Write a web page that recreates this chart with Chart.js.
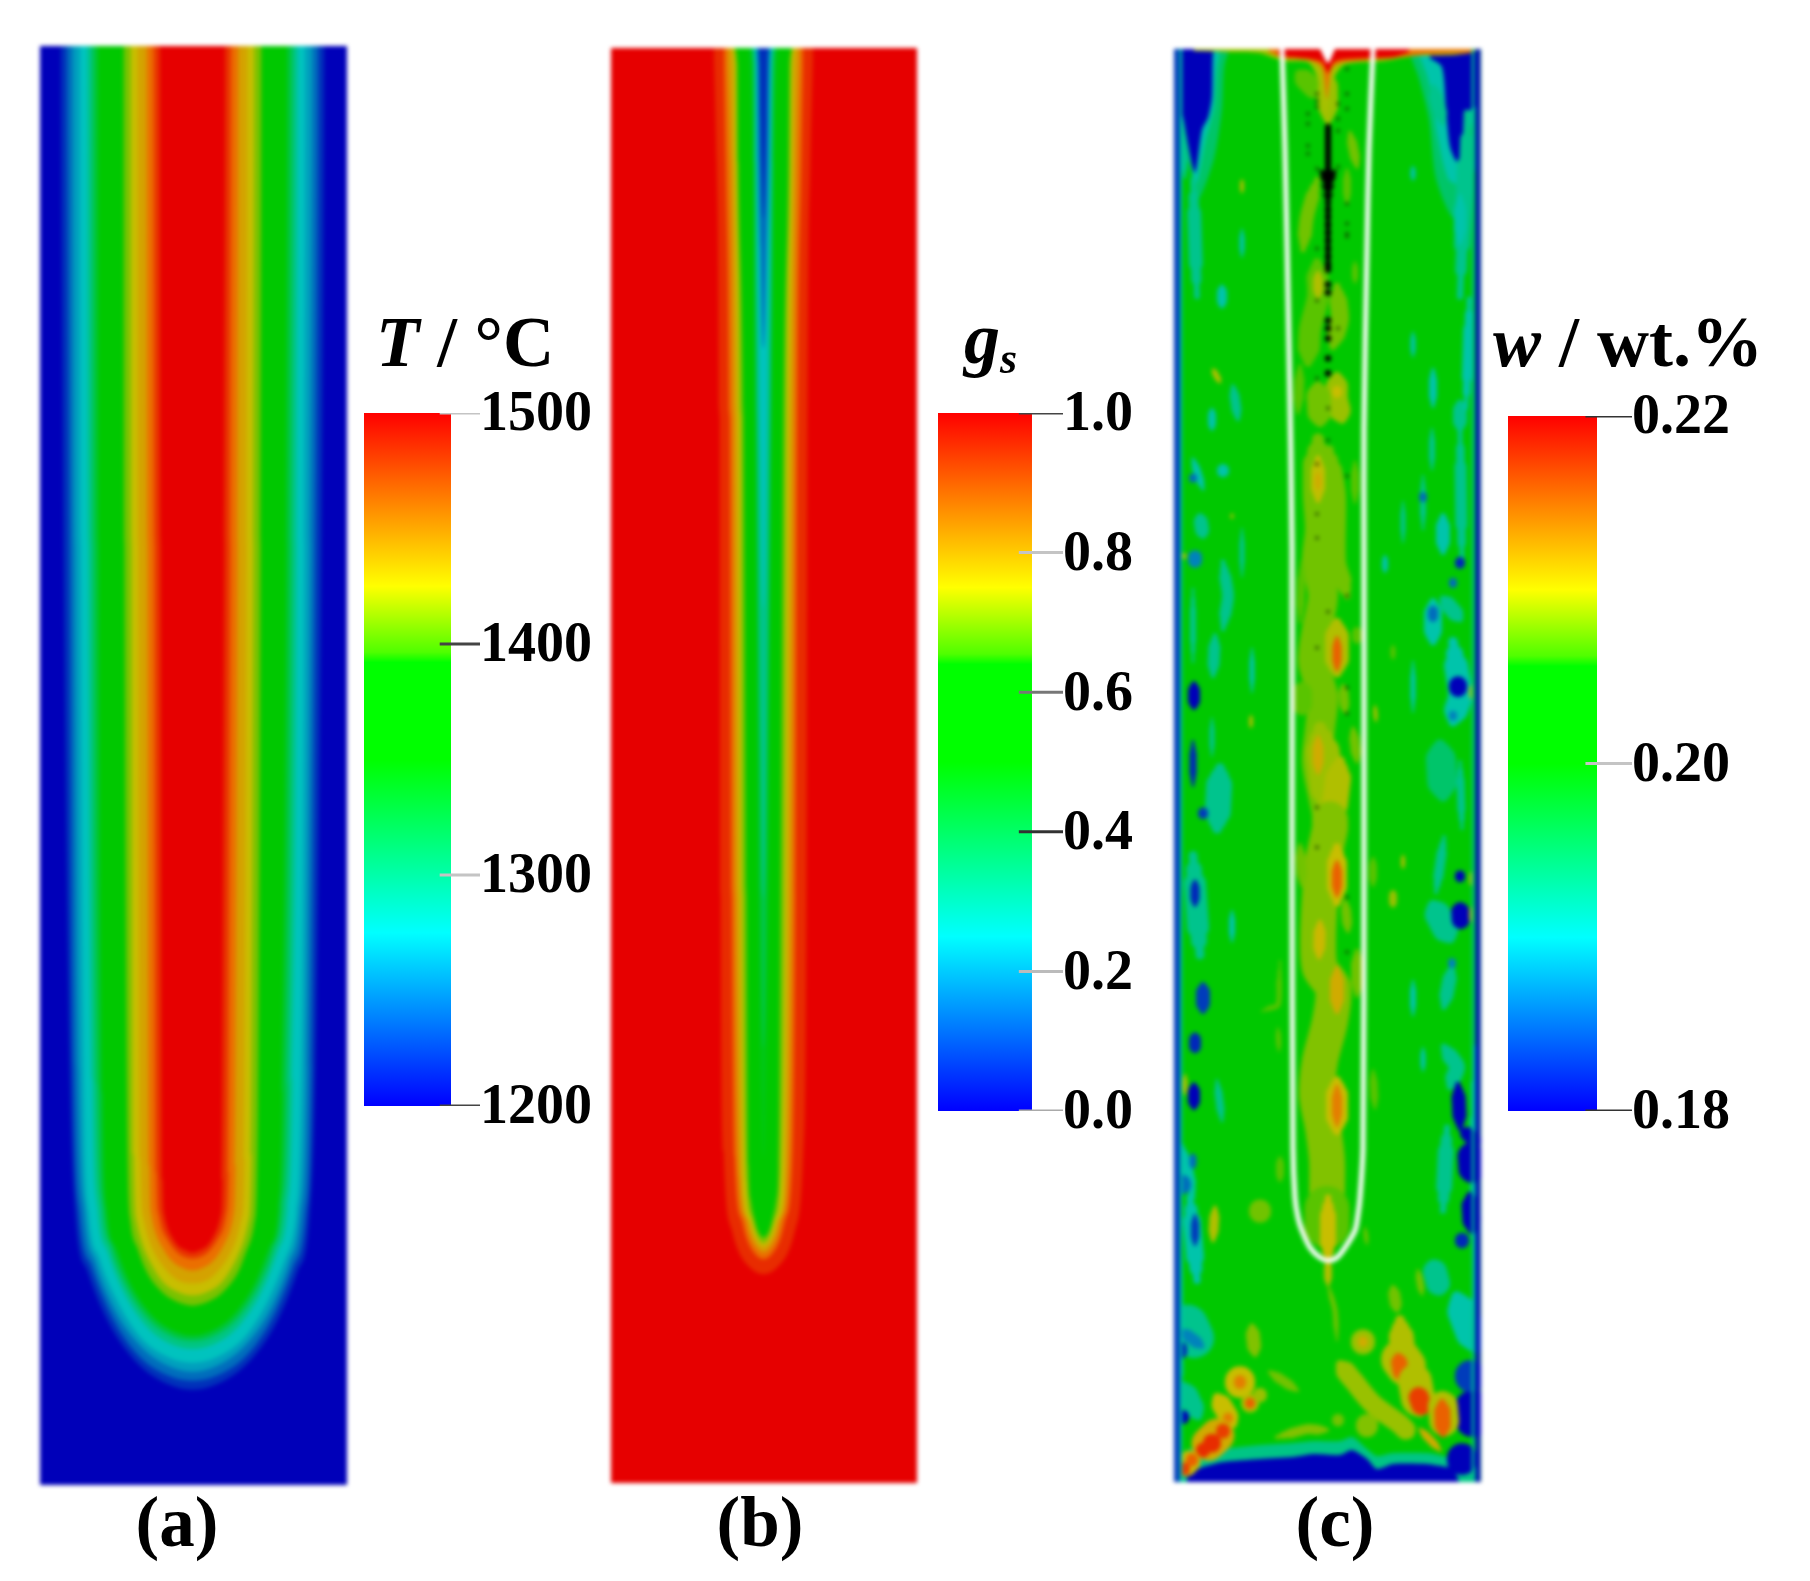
<!DOCTYPE html>
<html>
<head>
<meta charset="utf-8">
<script src="https://cdn.jsdelivr.net/npm/chart.js@4/dist/chart.umd.min.js"></script>
<style>
html, body { margin: 0; background: #fff; }
body { position: relative; width: 1810px; height: 1581px; overflow: hidden; font: bold 66px "Liberation Serif", serif; color: #000; }
canvas { position: absolute; }
.field { filter: blur(2px); }
.bar { filter: blur(0.6px); }
.txt { position: absolute; line-height: 1; white-space: nowrap; filter: blur(0.5px); }
.cap { transform: translateX(-50%); }
sub { font-size: 44px; vertical-align: baseline; position: relative; top: 10px; }
</style>
</head>
<body>
<script>
// Vùng tính: trục x theo bề rộng phôi, trục y theo chiều sâu (đơn vị)
const fieldW = 307, fieldH = 1436;

// (a) nhiệt độ: mỗi đường đẳng trị là các cặp [nửa bề rộng, chiều sâu]
const tempLevels = [1219, 1242, 1261, 1275, 1299, 1326, 1350, 1410, 1425, 1438, 1462, 1482, 1500];
const tempContours = [
  [[132,0],[129,500],[123,1016],[117,1169],[105,1223],[86,1270],[62,1307],[37,1329],[0,1341]],
  [[126,0],[123,500],[119,1020],[113,1167],[101,1218],[83,1263],[60,1300],[36,1321],[0,1332]],
  [[120,0],[118,500],[114,1024],[108,1165],[97,1214],[80,1257],[57,1292],[34,1312],[0,1323]],
  [[113,0],[112,500],[109,1028],[104,1163],[93,1210],[76,1251],[55,1285],[33,1304],[0,1314]],
  [[105,0],[104,500],[100,1033],[95,1159],[85,1203],[70,1241],[50,1273],[30,1291],[0,1300]],
  [[100,0],[99,500],[95,1038],[90,1158],[81,1200],[67,1236],[48,1266],[29,1283],[0,1292]],
  [[95,0],[94,500],[90,1046],[86,1160],[77,1199],[63,1234],[45,1262],[27,1278],[0,1287]],
  [[69,0],[68,500],[65,1101],[62,1174],[55,1200],[46,1223],[33,1241],[20,1251],[0,1257]],
  [[62,0],[61,500],[59,1107],[56,1173],[50,1196],[41,1216],[30,1233],[18,1242],[0,1247]],
  [[55,0],[54,500],[52,1112],[49,1170],[44,1190],[36,1208],[26,1222],[16,1231],[0,1235]],
  [[46,0],[45,500],[43,1118],[41,1167],[37,1184],[30,1199],[22,1211],[13,1218],[0,1222]],
  [[39,0],[38,500],[36,1125],[34,1165],[31,1179],[25,1191],[18,1201],[11,1207],[0,1210]],
  [[33,0],[32,500],[30,1132],[28.5,1166],[25.5,1178],[21,1188],[15,1197],[9,1201],[0,1204]]
];

// (b) pha rắn
const solidLevels = [0.95, 0.875, 0.8, 0.75, 0.7, 0.64, 0.47, 0.4, 0.32, 0.25, 0.14, 0.06];
const solidContours = [
  [[50,0],[47,115],[44,370],[43,850],[40,1104],[32,1182],[26,1202],[15,1219],[0,1227]],
  [[40,0],[38,115],[34,370],[32,850],[29,1110],[22,1172],[17,1191],[9,1206],[0,1212]],
  [[36,0],[33,115],[30,370],[28,850],[24,1130],[18,1170],[14,1186],[7,1200],[0,1205]],
  [[32,0],[30,15],[29,115],[26,370],[24,850],[20,1152],[15,1172],[10,1187],[5,1196],[0,1199]],
  [[30,0],[28,15],[27,115],[23,370],[21,850],[17,1135],[12,1170],[8,1184],[4,1193],[0,1196]],
  [[29,0],[26,15],[25,115],[20,370],[17,850],[15,1119],[13,1152],[9,1172],[5,1185],[0,1190]],
  [[15,0],[14,15],[11,115],[8,370],[5,850],[2,1050],[0,1110]],
  [[13,0],[11,15],[9,115],[7,370],[3,850],[0,1000]],
  [[11,0],[9.5,15],[9,115],[7,370],[3,700],[0,850]],
  [[9,0],[8,15],[7,115],[5,250],[3,400],[0,560]],
  [[7,0],[6,15],[5,115],[3,200],[0,300]],
  [[5,0],[4,15],[3,70],[1.5,130],[0,170]]
];

// (c) thành phần: [wt, x, độ sâu, ...] tô lên mép trên hoặc mép dưới
const topPatches = [
  [0.1945, 1,72, 14,110, 24,150, 40,110, 48,60, 50,20, 54,4, 60,0],
  [0.191, 1,66, 10,80, 22,135, 32,90, 40,60, 43,20, 46,2],
  [0.1945, 235,3, 245,30, 255,70, 262,130, 280,170, 296,140, 306,100],
  [0.191, 245,6, 254,30, 264,90, 274,130, 284,135, 296,80, 304,50],
  [0.18, 1,64, 8,66, 13,91, 21,124, 28,81, 34,69, 38,48, 39,4, 42,0],
  [0.18, 256,9, 268,18, 272,60, 276,98, 283,113, 288,104, 294,64, 301,58, 306,58]
];
const hotPatches = [
  [0.2092, 20,2, 60,3, 85,4, 110,12, 135,14, 145,34, 152,74, 158,34, 170,16, 210,12, 240,7, 280,6, 302,3],
  [0.2145, 95,3, 110,9, 135,11, 148,19, 153,50, 158,19, 170,13, 220,9, 255,5, 298,4],
  [0.22, 104,7, 136,10, 148,13, 154,24, 160,13, 172,10, 219,8, 235,3]
];
const bottomPatches = [
  [0.193, 0,1412, 13,1416, 29,1406, 49,1403, 86,1399, 119,1397, 139,1395, 166,1395, 178,1391, 193,1403, 203,1410, 219,1407, 253,1407, 273,1411, 290,1416, 306,1416],
  [0.18, 13,1428, 29,1421, 49,1416, 86,1413, 119,1411, 139,1408, 166,1409, 178,1404, 193,1413, 203,1423, 219,1418, 253,1418, 273,1421, 279,1421, 285,1436]
];

// [wt, bề dày, x, y, x, y, ...]
const coolWisps = [
  [0.1926, 14, 19,131, 23,248], [0.1926, 8, 8,74, 11,128], [0.191, 5, 68,181, 68,208],
  [0.191, 10, 48,238, 48,258], [0.1926, 10, 59,338, 64,371], [0.191, 8, 38,361, 38,381],
  [0.191, 5, 239,118, 239,131], [0.1926, 16, 293,64, 286,248], [0.191, 12, 286,148, 286,194],
  [0.1926, 14, 259,38, 269,74], [0.191, 5, 239,284, 239,308], [0.191, 8, 259,321, 259,358],
  [0.1926, 14, 286,354, 286,381], [0.191, 10, 295,250, 292,360],
  [0.191, 8, 19,411, 29,441], [0.1926, 14, 26,468, 29,488], [0.1926, 12, 49,514, 54,548, 49,581],
  [0.1926, 12, 41,588, 39,628], [0.1926, 26, 46,721, 43,781], [0.1926, 6, 19,541, 19,614],
  [0.1926, 5, 38,671, 38,708], [0.191, 5, 78,601, 78,644], [0.1926, 5, 68,481, 68,528],
  [0.191, 12, 49,421, 49,424], [0.1926, 12, 286,381, 288,514], [0.1926, 6, 258,381, 258,421],
  [0.1926, 6, 249,428, 249,481], [0.1926, 5, 229,454, 229,494], [0.191, 14, 269,468, 269,504],
  [0.191, 6, 211,508, 211,524], [0.191, 18, 259,554, 259,594], [0.1926, 16, 269,551, 286,571],
  [0.191, 24, 279,594, 286,648, 279,674], [0.1944, 30, 266,698, 269,748], [0.1926, 8, 286,714, 288,781],
  [0.191, 5, 239,614, 239,664], [0.1926, 22, 19,808, 26,908], [0.191, 6, 58,864, 58,894],
  [0.1926, 8, 43,1034, 48,1074], [0.1926, 26, 259,858, 276,891], [0.1926, 10, 270,790, 262,845],
  [0.191, 6, 239,934, 239,968], [0.191, 5, 249,1001, 249,1024], [0.1926, 14, 278,920, 270,960],
  [0.1926, 16, 273,1081, 269,1164], [0.1926, 16, 270,1000, 283,1020, 276,1040],
  [0.191, 18, 16,1151, 23,1234], [0.1926, 24, 259,1218, 266,1244], [0.191, 30, 283,1251, 302,1301],
  [0.1926, 40, 10,1270, 24,1300], [0.191, 12, 8,1100, 19,1150], [0.1926, 20, 10,1340, 24,1370],
  [0.191, 8, 4,1140, 6,1400], [0.191, 10, 300,1000, 302,1260], [0.1926, 8, 12,1406, 40,1404]
];
const darkWisps = [
  [0.1856, 8, 19,429, 19,431], [0.1867, 14, 21,507, 21,515], [0.18, 12, 20,636, 20,660],
  [0.182, 7, 19,694, 19,738], [0.1831, 10, 29,764, 29,768], [0.1856, 8, 249,447, 249,451],
  [0.182, 10, 286,513, 286,517], [0.1856, 8, 279,533, 279,537], [0.1856, 10, 259,560, 259,572],
  [0.18, 18, 284,636, 284,642], [0.1867, 8, 279,666, 279,670], [0.182, 9, 21,834, 21,858],
  [0.1831, 14, 29,938, 29,964], [0.182, 12, 21,988, 21,1004], [0.18, 12, 20,1038, 20,1061],
  [0.1856, 18, 8,1136, 8,1140], [0.1856, 7, 19,1108, 19,1121], [0.1831, 8, 21,1169, 21,1198],
  [0.18, 10, 286,827, 286,831], [0.18, 18, 286,859, 287,878], [0.1867, 8, 278,914, 278,918],
  [0.18, 14, 284,1038, 286,1081], [0.18, 14, 289,1084, 304,1096], [0.18, 26, 296,1101, 298,1131],
  [0.18, 18, 296,1149, 298,1184], [0.182, 14, 288,1192, 288,1196], [0.18, 12, 9,1369, 9,1373],
  [0.182, 14, 6,1300, 6,1308], [0.1867, 12, 8,1285, 28,1300], [0.18, 30, 288,1411, 288,1415],
  [0.18, 35, 298,1354, 299,1381], [0.1831, 30, 296,1328, 296,1332], [0.1867, 8, 26,1392, 26,1396]
];
const warmWisps = [
  [0.2072, 20, 125,25, 145,45], [0.2088, 20, 154,24, 154,71], [0.2078, 10, 176,84, 183,118],
  [0.2078, 14, 143,131, 133,168, 129,201], [0.2072, 8, 173,121, 173,154], [0.2072, 6, 181,214, 181,234],
  [0.2072, 22, 143,214, 144,248, 136,281, 134,314], [0.2094, 10, 144,224, 144,248],
  [0.2078, 18, 163,238, 166,271, 159,298], [0.2088, 22, 163,328, 163,351, 168,371], [0.21, 10, 163,341, 163,346],
  [0.2078, 24, 144,338, 146,374], [0.2072, 10, 126,318, 124,364], [0.2094, 4, 68,131, 68,144],
  [0.2094, 6, 39,321, 46,334],
  [0.2078, 30, 144,391, 144,448, 146,481, 143,514, 149,548, 143,581, 139,614, 149,648, 146,681, 143,714, 149,748, 156,781, 156,800],
  [0.2078, 18, 156,401, 163,448, 163,514, 173,548], [0.2072, 8, 181,414, 181,454], [0.2072, 10, 183,581, 183,594],
  [0.2072, 8, 128,514, 126,574], [0.2072, 20, 128,638, 128,664], [0.2078, 10, 179,681, 183,714], [0.2078, 10, 169,638, 171,664],
  [0.2098, 14, 144,410, 144,452], [0.2112, 6, 144,425, 144,441], [0.2094, 24, 163,575, 163,625], [0.2156, 9, 163,590, 163,622],
  [0.2088, 34, 146,681, 156,764], [0.2112, 11, 144,690, 144,725], [0.2094, 26, 166,714, 159,774],
  [0.2072, 5, 219,598, 219,611], [0.2094, 4, 297,638, 297,651], [0.2094, 4, 201,658, 202,674], [0.2094, 3, 58,466, 58,470],
  [0.2094, 5, 10,507, 10,509], [0.2094, 4, 77,668, 77,680],
  [0.2082, 36, 156,765, 156,781, 149,814, 146,848, 144,894, 146,921, 159,941, 156,974, 146,1014, 143,1048, 149,1081, 153,1114, 153,1170],
  [0.2104, 12, 146,875, 145,910], [0.21, 20, 163,800, 163,855], [0.2156, 10, 163,815, 163,848],
  [0.2112, 14, 163,922, 163,964], [0.21, 22, 163,1034, 163,1084], [0.214, 10, 163,1040, 163,1078],
  [0.2078, 10, 126,798, 128,838], [0.2078, 10, 171,854, 174,884], [0.2078, 12, 183,904, 183,948],
  [0.2072, 5, 106,914, 104,958, 88,964], [0.2072, 5, 104,981, 105,1004], [0.2072, 8, 199,811, 199,838],
  [0.2088, 8, 219,844, 219,859], [0.2094, 4, 229,808, 229,821], [0.2072, 8, 199,1024, 201,1061],
  [0.2072, 8, 106,1111, 106,1134], [0.2078, 22, 86,1163, 86,1166], [0.2094, 10, 41,1161, 39,1194],
  [0.2094, 5, 11,1028, 11,1048], [0.2094, 4, 297,825, 297,838], [0.2094, 4, 297,860, 297,875],
  [0.2072, 45, 153,1151, 153,1190], [0.21, 16, 154,1151, 154,1214], [0.2078, 5, 154,1238, 161,1264, 163,1294],
  [0.2094, 8, 154,1214, 154,1238], [0.2078, 7, 244,1224, 248,1248], [0.2078, 12, 219,1241, 223,1264], [0.2078, 4, 191,1181, 193,1198],
  [0.2088, 24, 189,1294, 189,1297], [0.2112, 10, 189,1294, 189,1297], [0.2094, 25, 226,1274, 229,1311, 226,1324],
  [0.2094, 40, 224,1309, 235,1324], [0.2156, 16, 224,1310, 228,1332], [0.2094, 34, 239,1324, 246,1364],
  [0.2172, 20, 243,1346, 249,1364], [0.2094, 30, 268,1351, 271,1384], [0.2156, 16, 268,1356, 269,1388],
  [0.2112, 8, 246,1383, 266,1404], [0.2088, 20, 166,1318, 179,1334, 199,1358, 226,1378, 236,1388],
  [0.2082, 22, 193,1378, 193,1381], [0.2078, 12, 164,1373, 164,1375], [0.2082, 10, 103,1391, 133,1383, 153,1384],
  [0.2078, 10, 96,1326, 123,1344], [0.2082, 14, 78,1280, 81,1308], [0.21, 30, 66,1334, 66,1338], [0.214, 12, 66,1334, 66,1338],
  [0.21, 20, 43,1351, 59,1378], [0.214, 10, 54,1371, 54,1373], [0.2094, 18, 76,1356, 76,1358], [0.2156, 10, 76,1356, 76,1358],
  [0.2088, 14, 86,1348, 86,1350], [0.2112, 34, 29,1403, 49,1384], [0.2172, 14, 49,1384, 49,1386], [0.218, 18, 38,1396, 38,1398],
  [0.218, 14, 29,1403, 29,1405], [0.21, 22, 10,1422, 18,1413], [0.2156, 12, 18,1413, 18,1415], [0.2172, 12, 10,1422, 10,1424]
];
const edgeWisps = [[0.1831, 6, 3,0, 3,1436], [0.1915, 2.5, 7,0, 7,1436], [0.1926, 2.5, 299,0, 299,1436], [0.1805, 5, 304,0, 304,1436]];

// Đường biên trắng, khía đỉnh và vệt đen
const shellX = [108,111,115,118,118,119,121,124,128,136,146,154,163,171,181,184,186,189,190,190,190,193,195,199];
const shellY = [0,100,300,500,800,1100,1151,1171,1184,1201,1211,1214,1211,1201,1184,1168,1151,1100,800,500,381,200,100,0];
const notchX = [146, 154, 161];
const notchY = [0, 14, 0];
const arrowX = [154, 154];
const arrowY = [78, 124];
const arrowHeadX = [154, 154, 154, 154, 154];
const arrowHeadY = [127, 132, 140, 148, 155];
const arrowHeadSize = [11, 10, 8, 6.5, 4.5];
const beadX = [154, 154];
const beadY = [150, 222];
const streakX = [154,154,154,154,154,154,154,154,154,154,154,154,154,154,154,154];
const streakY = [161,168,176,184,192,200,208,216,221,236,244,272,280,290,310,325];
const speckX = [143,143,143,143,134,134,134,134,164,164,164,164,173,173,173,173,173,173,143,173,143,164,143,154,154,143,173,143,143,173,154,143,173,173,143,143,173,173];
const speckY = [45,52,58,120,65,75,97,105,55,70,82,118,20,45,60,155,175,185,200,188,252,280,330,360,392,416,428,466,490,548,564,600,640,666,760,800,850,905];

// Thang màu: vị trí và màu của thanh chú giải, màu tương ứng trên trường
const scaleStops = [0, 0.25, 0.5, 0.64, 0.655, 0.75, 0.875, 1];
const barColors = [[0,0,255],[0,255,255],[0,255,0],[0,255,0],[80,255,0],[255,255,0],[255,128,0],[255,0,0]];
const fieldColors = [[0,0,185],[0,195,190],[0,200,0],[0,200,0],[50,198,0],[200,190,0],[235,110,0],[230,0,0]];

// Thanh chú giải
const tempTicks = [1200, 1300, 1400, 1500];
const tempTickShades = ['#444', '#c4c4c4', '#444', '#c4c4c4'];
const solidTicks = [0, 0.2, 0.4, 0.6, 0.8, 1];
const solidTickShades = ['#aaa', '#bbb', '#333', '#777', '#c4c4c4', '#444'];
const compTicks = [0.18, 0.2, 0.22];
const compTickShades = ['#333', '#c4c4c4', '#333'];

function mixColor(frac, table) {
  const f = Math.min(1, Math.max(0, frac));
  let i = 0;
  while (i < scaleStops.length - 2 && f > scaleStops[i + 1]) i++;
  const t = (f - scaleStops[i]) / (scaleStops[i + 1] - scaleStops[i]);
  const c = table[i].map((v, k) => Math.round(v + (table[i + 1][k] - v) * t));
  return `rgb(${c[0]},${c[1]},${c[2]})`;
}

function fillSet(points, color, target, smooth) {
  return { data: points, showLine: true, borderWidth: 0, pointRadius: 0, cubicInterpolationMode: smooth ? 'monotone' : 'default', tension: smooth ? 0.4 : 0.25, backgroundColor: color, fill: { value: target } };
}

function lineSet(points, color, width) {
  return { data: points, showLine: true, borderColor: color, borderWidth: width, borderCapStyle: 'round', borderJoinStyle: 'round', pointRadius: 0, fill: false, tension: 0.3 };
}

// Một đường đẳng trị đối xứng quanh tâm, tô từ đường đó lên đỉnh phôi
function contourSet(profile, center, color) {
  const left = profile.map(p => ({ x: center - p[0], y: p[1] }));
  const right = profile.slice(0, -1).reverse().map(p => ({ x: center + p[0], y: p[1] }));
  return fillSet(left.concat(right), color, 0, true);
}

function pairs(list, start) {
  const out = [];
  for (let i = start; i < list.length; i += 2) out.push({ x: list[i], y: list[i + 1] });
  return out;
}

// Rút ngắn hai đầu vệt để vệt thuôn dần ra hai phía
function inset(points, t) {
  const out = points.map(p => ({ x: p.x, y: p.y }));
  const n = out.length - 1;
  const k = n === 1 ? t : t * 1.6;
  out[0] = { x: points[0].x + (points[1].x - points[0].x) * k, y: points[0].y + (points[1].y - points[0].y) * k };
  out[n] = { x: points[n].x + (points[n - 1].x - points[n].x) * k, y: points[n].y + (points[n - 1].y - points[n].y) * k };
  return out;
}

function wispSets(w, color) {
  const pts = pairs(w, 2);
  return [lineSet(pts, color, w[1] * 0.4), lineSet(inset(pts, 0.14), color, w[1] * 0.72), lineSet(inset(pts, 0.28), color, w[1])];
}

function makeField(box, datasets) {
  const c = document.createElement('canvas');
  c.className = 'field';
  c.style.cssText = `left:${box[0]}px;top:${box[1]}px;width:${box[2]}px;height:${box[3]}px`;
  c.width = box[2];
  c.height = box[3];
  document.body.appendChild(c);
  new Chart(c, {
    type: 'scatter',
    data: { datasets: datasets.slice().reverse() },
    options: {
      responsive: false,
      animation: false,
      layout: { padding: 0, autoPadding: false },
      plugins: { legend: { display: false }, tooltip: { enabled: false } },
      scales: {
        x: { display: false, min: 0, max: fieldW },
        y: { display: false, reverse: true, min: 0, max: fieldH }
      }
    }
  });
}

function makeBar(box, xMax, tickIn, ticks, shades, digits) {
  const pad = 42, labelW = 140;
  const outer = Math.round(box[2] * (xMax - 1));
  const c = document.createElement('canvas');
  c.className = 'bar';
  const w = box[2] + outer + labelW, h = box[3] + pad * 2;
  c.style.cssText = `left:${box[0]}px;top:${box[1] - pad}px;width:${w}px;height:${h}px`;
  c.width = w;
  c.height = h;
  document.body.appendChild(c);
  const lo = ticks[0], hi = ticks[ticks.length - 1];
  const grad = ctx => {
    const area = ctx.chart.chartArea;
    if (!area) return '#00f';
    const g = ctx.chart.ctx.createLinearGradient(0, area.bottom, 0, area.top);
    scaleStops.forEach(s => g.addColorStop(s, mixColor(s, barColors)));
    return g;
  };
  const datasets = ticks.map((v, i) => ({
    data: [{ x: tickIn, y: v }, { x: xMax, y: v }],
    showLine: true, borderColor: shades[i], borderWidth: 3, pointRadius: 0, fill: false
  }));
  datasets.push({ data: [{ x: 0, y: hi }, { x: 1, y: hi }], showLine: true, borderWidth: 0, pointRadius: 0, backgroundColor: grad, fill: { value: lo } });
  new Chart(c, {
    type: 'scatter',
    data: { datasets },
    options: {
      responsive: false,
      animation: false,
      layout: { padding: { top: pad, bottom: pad }, autoPadding: false },
      plugins: { legend: { display: false }, tooltip: { enabled: false } },
      scales: {
        x: { display: false, min: 0, max: xMax },
        y: {
          position: 'right',
          min: lo,
          max: hi,
          afterBuildTicks: s => { s.ticks = ticks.map(v => ({ value: v })); },
          afterFit: s => { s.width = labelW; },
          grid: { display: false, drawTicks: false },
          border: { display: false },
          ticks: {
            color: '#000',
            padding: 0,
            labelOffset: 3,
            font: { family: '"Liberation Serif", serif', size: 56, weight: 'bold' },
            callback: v => v.toFixed(digits)
          }
        }
      }
    }
  });
}

// Panel (a)
const tempSets = [fillSet([{ x: 0, y: fieldH }, { x: fieldW, y: fieldH }], mixColor(0, fieldColors), 0)];
tempContours.forEach((p, i) => tempSets.push(contourSet(p, 152.5, mixColor((tempLevels[i] - 1200) / 300, fieldColors))));
makeField([40, 46, 307, 1439], tempSets);

// Panel (b)
const solidSets = [fillSet([{ x: 0, y: fieldH }, { x: fieldW, y: fieldH }], mixColor(1, fieldColors), 0)];
solidContours.forEach((p, i) => solidSets.push(contourSet(p, 153, mixColor(solidLevels[i], fieldColors))));
makeField([611, 48, 306, 1435], solidSets);

// Panel (c)
const compColor = v => mixColor((v - 0.18) / 0.04, fieldColors);
const compSets = [fillSet([{ x: 0, y: fieldH }, { x: fieldW, y: fieldH }], compColor(0.2), 0)];
topPatches.forEach(p => compSets.push(fillSet(pairs(p, 1), compColor(p[0]), 0)));
bottomPatches.forEach(p => compSets.push(fillSet(pairs(p, 1), compColor(p[0]), fieldH)));
coolWisps.concat(darkWisps, warmWisps).forEach(w => compSets.push(...wispSets(w, compColor(w[0]))));
hotPatches.forEach(p => compSets.push(fillSet(pairs(p, 1), compColor(p[0]), 0)));
compSets.push(fillSet(notchX.map((x, i) => ({ x, y: notchY[i] })), '#fff', 0));
edgeWisps.forEach(w => compSets.push(lineSet(pairs(w, 2), compColor(w[0]), w[1])));
compSets.push(lineSet(shellX.map((x, i) => ({ x, y: shellY[i] })), '#fff', 5));
compSets.push(lineSet(arrowX.map((x, i) => ({ x, y: arrowY[i] })), '#000', 6));
compSets.push(lineSet(beadX.map((x, i) => ({ x, y: beadY[i] })), '#000', 4.5));
compSets.push({ data: arrowHeadX.map((x, i) => ({ x, y: arrowHeadY[i] })), pointStyle: 'triangle', rotation: 180, pointRadius: arrowHeadSize, backgroundColor: '#000', borderWidth: 0 });
compSets.push({ data: streakX.map((x, i) => ({ x, y: streakY[i] })), pointRadius: 3.2, backgroundColor: '#000', borderWidth: 0 });
compSets.push({ data: speckX.map((x, i) => ({ x, y: speckY[i] })), pointRadius: 1.8, backgroundColor: 'rgba(20,50,0,0.8)', borderWidth: 0 });
makeField([1174, 49, 307, 1433], compSets);

makeBar([364, 413, 87, 693], 1.333, 0.87, tempTicks, tempTickShades, 0);
makeBar([938, 413, 94, 698], 1.33, 0.86, solidTicks, solidTickShades, 1);
makeBar([1508, 416, 89, 695], 1.393, 0.87, compTicks, compTickShades, 2);

// Chữ
const labels = [
  ['<i>T</i> / °C', 376, 307, 71, ''],
  ['<i>g<sub>s</sub></i>', 964, 303, 72, ''],
  ['<i>w</i> / wt.%', 1493, 306, 72, ''],
  ['(a)', 177, 1487, 71, 'cap'],
  ['(b)', 760, 1487, 71, 'cap'],
  ['(c)', 1335, 1487, 71, 'cap']
];
labels.forEach(l => {
  const d = document.createElement('div');
  d.className = 'txt ' + l[4];
  d.innerHTML = l[0];
  d.style.left = l[1] + 'px';
  d.style.top = l[2] + 'px';
  d.style.fontSize = l[3] + 'px';
  document.body.appendChild(d);
});
</script>
</body>
</html>
